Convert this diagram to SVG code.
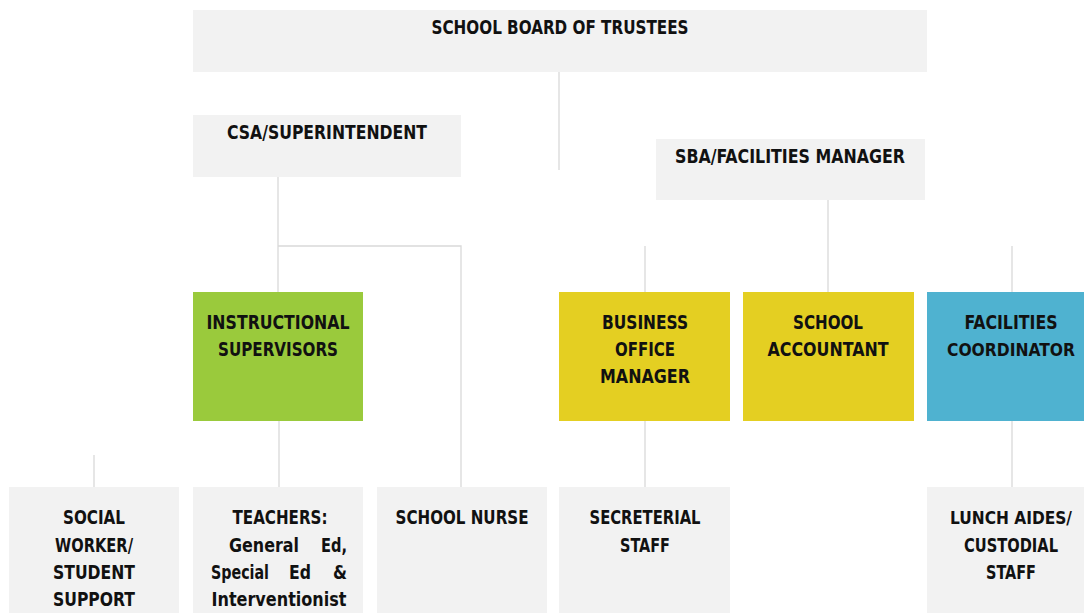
<svg xmlns="http://www.w3.org/2000/svg" width="1084" height="613" viewBox="0 0 1084 613">
<style>
.box{fill:#F2F2F2}
.green{fill:#9ACA3C}
.yellow{fill:#E4CF22}
.blue{fill:#4FB2D0}
.conn line, .conn polyline{stroke:#D9D9D9;stroke-width:1.3;fill:none}
text{font-family:"Liberation Sans Narrow","DejaVu Sans Condensed","Liberation Sans",sans-serif;font-weight:bold;font-size:20px;fill:#111;text-anchor:middle}
text.sm{font-size:18px}
</style>
<rect width="1084" height="613" fill="#FFFFFF"/>
<g class="conn" id="connectors">
<line x1="559" y1="72" x2="559" y2="170"/>
<polyline points="278,177 278,292"/>
<polyline points="278,246 461,246 461,487"/>
<line x1="828" y1="200" x2="828" y2="292"/>
<line x1="645" y1="246" x2="645" y2="292"/>
<line x1="1012" y1="246" x2="1012" y2="292"/>
<line x1="279" y1="421" x2="279" y2="487"/>
<line x1="645" y1="421" x2="645" y2="487"/>
<line x1="1012" y1="421" x2="1012" y2="487"/>
<line x1="94" y1="455" x2="94" y2="487"/>
</g>
<g id="board">
<rect class="box" x="193" y="10" width="734" height="62"/>
<text x="560" y="34" textLength="257" lengthAdjust="spacingAndGlyphs">SCHOOL BOARD OF TRUSTEES</text>
</g>
<g id="csa">
<rect class="box" x="193" y="115" width="268" height="62"/>
<text x="327" y="139" textLength="200" lengthAdjust="spacingAndGlyphs">CSA/SUPERINTENDENT</text>
</g>
<g id="sba">
<rect class="box" x="656" y="139" width="269" height="61"/>
<text x="790" y="163" textLength="230" lengthAdjust="spacingAndGlyphs">SBA/FACILITIES MANAGER</text>
</g>
<g id="instructional">
<rect class="green" x="193" y="292" width="170" height="129"/>
<text x="278" y="329" textLength="143" lengthAdjust="spacingAndGlyphs">INSTRUCTIONAL</text>
<text x="278" y="356" textLength="120" lengthAdjust="spacingAndGlyphs">SUPERVISORS</text>
</g>
<g id="business">
<rect class="yellow" x="559" y="292" width="171" height="129"/>
<text x="645" y="329" textLength="86" lengthAdjust="spacingAndGlyphs">BUSINESS</text>
<text x="645" y="356" textLength="60" lengthAdjust="spacingAndGlyphs">OFFICE</text>
<text x="645" y="383" textLength="90" lengthAdjust="spacingAndGlyphs">MANAGER</text>
</g>
<g id="accountant">
<rect class="yellow" x="743" y="292" width="171" height="129"/>
<text x="828" y="329" textLength="70" lengthAdjust="spacingAndGlyphs">SCHOOL</text>
<text x="828" y="356" textLength="121" lengthAdjust="spacingAndGlyphs">ACCOUNTANT</text>
</g>
<g id="facilities">
<rect class="blue" x="927" y="292" width="157" height="129"/>
<text x="1011" y="329" textLength="93" lengthAdjust="spacingAndGlyphs">FACILITIES</text>
<text class="sm" x="1011" y="356" textLength="128" lengthAdjust="spacingAndGlyphs">COORDINATOR</text>
</g>
<g id="social">
<rect class="box" x="9" y="487" width="170" height="126"/>
<text x="94" y="524" textLength="62" lengthAdjust="spacingAndGlyphs">SOCIAL</text>
<text x="94" y="552" textLength="78" lengthAdjust="spacingAndGlyphs">WORKER/</text>
<text x="94" y="579" textLength="82" lengthAdjust="spacingAndGlyphs">STUDENT</text>
<text x="94" y="606" textLength="82" lengthAdjust="spacingAndGlyphs">SUPPORT</text>
</g>
<g id="teachers">
<rect class="box" x="193" y="487" width="170" height="126"/>
<text x="280" y="524" textLength="95" lengthAdjust="spacingAndGlyphs">TEACHERS:</text>
<text x="264" y="552" textLength="70" lengthAdjust="spacingAndGlyphs">General</text>
<text x="334" y="552" textLength="26" lengthAdjust="spacingAndGlyphs">Ed,</text>
<text x="240" y="579" textLength="58" lengthAdjust="spacingAndGlyphs">Special</text>
<text x="300" y="579" textLength="22" lengthAdjust="spacingAndGlyphs">Ed</text>
<text x="340" y="579" textLength="14" lengthAdjust="spacingAndGlyphs">&amp;</text>
<text x="279" y="606" textLength="135" lengthAdjust="spacingAndGlyphs">Interventionist</text>
</g>
<g id="nurse">
<rect class="box" x="377" y="487" width="170" height="126"/>
<text x="462" y="524" textLength="133" lengthAdjust="spacingAndGlyphs">SCHOOL NURSE</text>
</g>
<g id="secreterial">
<rect class="box" x="559" y="487" width="171" height="126"/>
<text x="645" y="524" textLength="111" lengthAdjust="spacingAndGlyphs">SECRETERIAL</text>
<text x="645" y="552" textLength="50" lengthAdjust="spacingAndGlyphs">STAFF</text>
</g>
<g id="lunch">
<rect class="box" x="927" y="487" width="157" height="126"/>
<text class="sm" x="1011" y="524" textLength="122" lengthAdjust="spacingAndGlyphs">LUNCH AIDES/</text>
<text x="1011" y="552" textLength="94" lengthAdjust="spacingAndGlyphs">CUSTODIAL</text>
<text x="1011" y="579" textLength="50" lengthAdjust="spacingAndGlyphs">STAFF</text>
</g>
</svg>
